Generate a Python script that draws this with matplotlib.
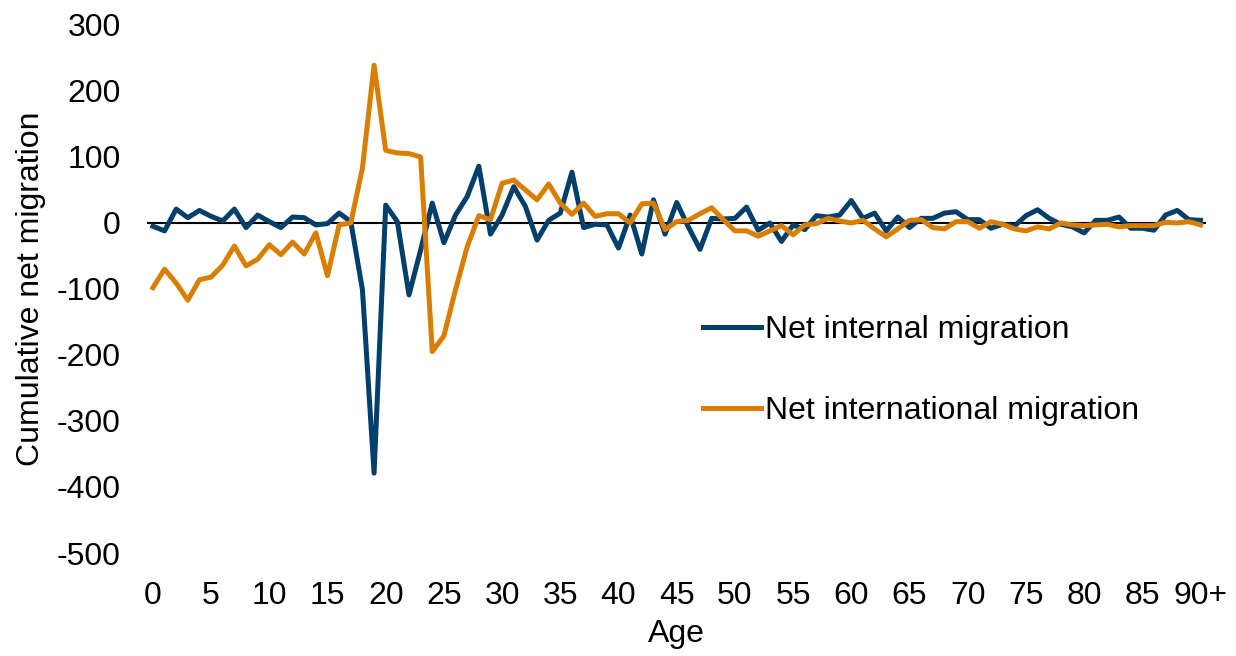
import matplotlib
matplotlib.use("Agg")
import matplotlib.pyplot as plt
import numpy as np

plt.rcParams["font.family"] = ["Liberation Sans", "DejaVu Sans"]
plt.rcParams["axes.unicode_minus"] = False

ages = list(range(91))
tick_pos = list(range(0, 91, 5))
tick_labels = [str(a) for a in range(0, 90, 5)] + ["90+"]

# values, ages 0..90
internal = [
    -5, -12, 21, 8, 19, 10, 3, 21, -7, 12,
    2, -7, 9, 8, -3, -1, 15, 2, -101, -379,
    27, 2, -109, -41, 30, -30, 12, 40, 86, -17,
    12, 55, 25, -26, 4, 15, 77, -7, -2, -3,
    -38, 12, -47, 35, -17, 31, -6, -40, 7, 6,
    7, 24, -11, 0, -28, -3, -10, 11, 9, 12,
    34, 7, 15, -12, 9, -7, 7, 7, 15, 17,
    5, 5, -8, -2, -5, 11, 20, 7, -2, -6,
    -15, 4, 4, 9, -8, -8, -11, 12, 19, 5,
    4,
]
international = [
    -98, -70, -91, -117, -86, -82, -64, -35, -65, -55,
    -33, -48, -29, -47, -15, -80, -3, 0, 83, 239,
    110, 106, 105, 100, -195, -171, -101, -36, 11, 5,
    60, 65, 50, 35, 59, 30, 13, 30, 10, 14,
    14, 0, 29, 30, -10, 2, 4, 14, 23, 5,
    -12, -12, -20, -12, -4, -18, -3, -1, 7, 3,
    0, 4, -9, -21, -9, 4, 5, -7, -9, 2,
    2, -8, 2, -2, -9, -12, -6, -9, 0, -3,
    -4, -3, -2, -6, -4, -4, -4, 1, 0, 2,
    -3,
]

blue = "#023f6b"
orange = "#d97e00"
fs = 23

fig = plt.figure(figsize=(12.36, 6.56), dpi=100)
ax = fig.add_axes([0.119, 0.157, 0.857, 0.805])

ax.axhline(0, color="black", lw=1.5, zorder=1)
ax.plot(ages, internal, color=blue, lw=3.6, label="Net internal migration", zorder=2)
ax.plot(ages, international, color=orange, lw=3.6, label="Net international migration", zorder=3)

ax.set_xlim(-0.5, 90.5)
ax.set_ylim(-500, 300)
ax.set_yticks(np.arange(-500, 301, 100))
ax.set_xticks(tick_pos)
ax.set_xticklabels(tick_labels)
ax.tick_params(axis="both", length=0, labelsize=fs)
ax.tick_params(axis="x", pad=20)
ax.tick_params(axis="y", pad=19)
for s in ax.spines.values():
    s.set_visible(False)

ax.set_xlabel("Age", fontsize=fs, labelpad=6)
ax.set_ylabel("Cumulative net migration", fontsize=fs, labelpad=8)

ax.legend(
    loc="upper left",
    bbox_to_anchor=(0.525, 0.45),
    frameon=False,
    fontsize=fs,
    borderpad=0,
    borderaxespad=0,
    labelspacing=1.6,
    handlelength=1.8,
    handletextpad=0.15,
)

fig.savefig("out.png", dpi=100)
